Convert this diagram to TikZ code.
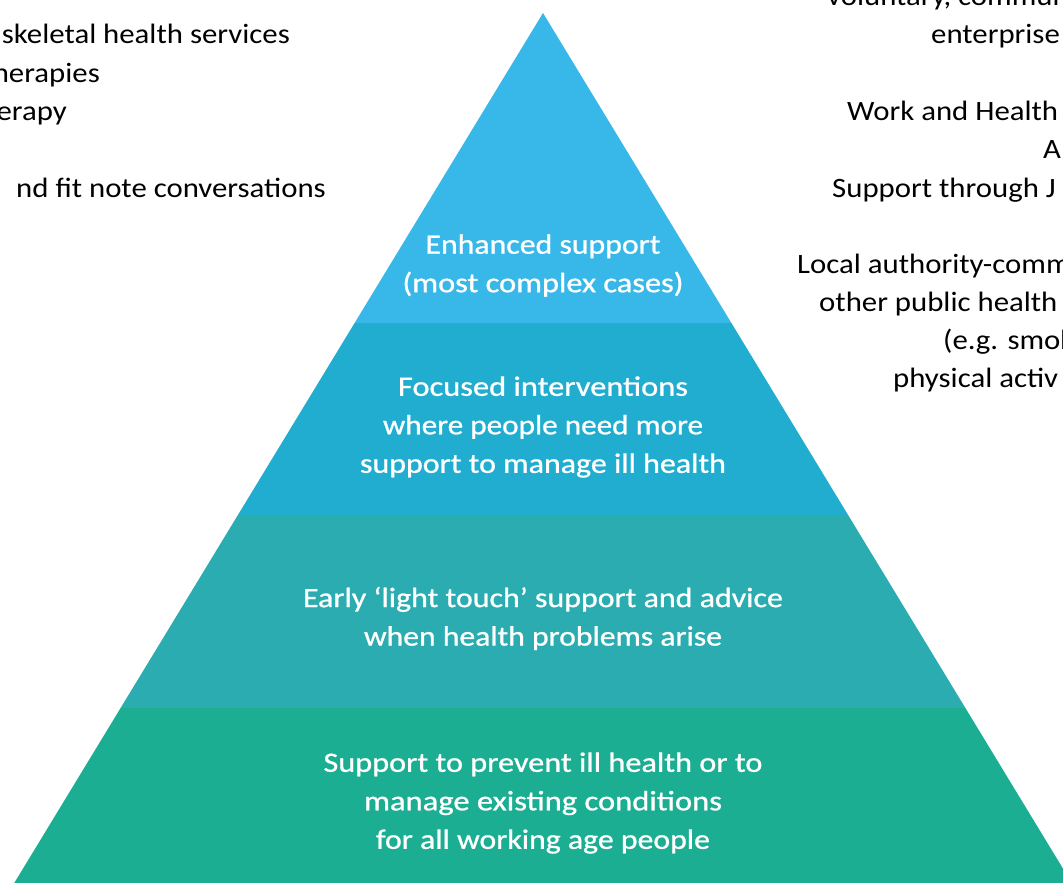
\documentclass[tikz,border=0pt]{standalone}
\usepackage{fontspec}
\setmainfont{Carlito}
\newfontfamily\layerfont[FakeBold=0.8]{Carlito}
\usepackage{graphicx}
\definecolor{layerA}{RGB}{56,184,233}
\definecolor{layerB}{RGB}{33,173,207}
\definecolor{layerC}{RGB}{42,172,176}
\definecolor{layerD}{RGB}{28,174,146}
\newcommand\fw[2]{\resizebox{#1pt}{\height}{#2}}
\newcommand\sw[1]{\scalebox{1.1}[1]{#1}}
\tikzset{
  layertext/.style={text=white, align=center, inner sep=0pt,
    font=\layerfont\fontsize{28pt}{38.5pt}\selectfont},
  sidetext/.style={text=black, inner sep=0pt,
    font=\fontsize{28pt}{38.5pt}\selectfont}
}
\begin{document}
\begin{tikzpicture}[x=1pt,y=-1pt]
\useasboundingbox (0,0) rectangle (1063,883);
\clip (0,0) rectangle (1063,883);
% pyramid layers
\fill[layerA] (543,13) -- (731.4,323) -- (354.6,323) -- cycle;
\fill[layerB] (354.6,323) -- (731.4,323) -- (848.7,516) -- (237.3,516) -- cycle;
\fill[layerC] (237.3,516) -- (848.7,516) -- (965.4,708) -- (120.6,708) -- cycle;
\fill[layerD] (120.6,708) -- (965.4,708) -- (1076,890) -- (10,890) -- cycle;
% layer texts
\node[layertext] (t1) at (543,265.5) {\fw{235}{Enhanced support}\\\fw{281}{(most complex cases)}};
\node[layertext] (t2) at (543,427) {\fw{290}{Focused interventions}\\\fw{320}{where people need more}\\\fw{366}{support to manage ill health}};
\node[layertext] (t3) at (543,618.5) {\fw{480}{Early ‘light touch’ support and advice}\\\fw{358}{when health problems arise}};
\node[layertext] (t4) at (543,803) {\fw{439}{Support to prevent ill health or to}\\\fw{358}{manage existing conditions}\\\fw{334}{for all working age people}};
% left side texts (cropped)
\node[sidetext, anchor=base east] (l1) at (290,44) {\sw{skeletal health services}};
\node[sidetext, anchor=base east] (l2) at (100,82) {\sw{herapies}};
\node[sidetext, anchor=base east] (l3) at (67,120) {\sw{erapy}};
\node[sidetext, anchor=base east] (l4) at (326,197) {\sw{nd fit note conversations}};
% right side texts (cropped)
\node[sidetext, anchor=base west] (r0) at (827,6) {\sw{voluntary, commun}};
\node[sidetext, anchor=base west] (r1) at (931,44) {\sw{enterprise}};
\node[sidetext, anchor=base west] (r2) at (847,120) {\sw{Work and Health}};
\node[sidetext, anchor=base west] (r3) at (1043,158) {\sw{A}};
\node[sidetext, anchor=base west] (r4) at (832,197) {\sw{Support through J}};
\node[sidetext, anchor=base west] (r5) at (797,273) {\sw{Local authority-comm}};
\node[sidetext, anchor=base west] (r6) at (819,311) {\sw{other public health}};
\node[sidetext, anchor=base west] (r7) at (943,349) {\sw{(e.g. smok}};
\node[sidetext, anchor=base west] (r8) at (893,387) {\sw{physical activ}};
\end{tikzpicture}
\end{document}
